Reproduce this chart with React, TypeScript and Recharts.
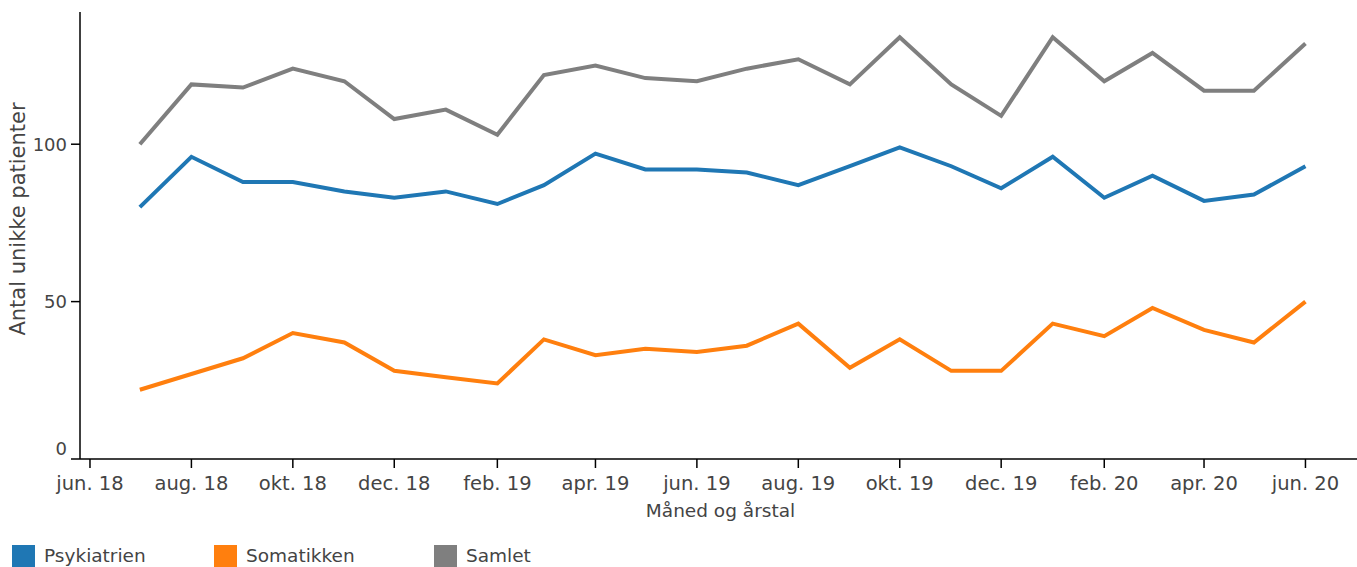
import { Line, LineChart, XAxis, YAxis } from "recharts";

// månedlige tal, jul. 18 - jun. 20
const months = [
  "2018-07-01", "2018-08-01", "2018-09-01", "2018-10-01", "2018-11-01", "2018-12-01",
  "2019-01-01", "2019-02-01", "2019-03-01", "2019-04-01", "2019-05-01", "2019-06-01",
  "2019-07-01", "2019-08-01", "2019-09-01", "2019-10-01", "2019-11-01", "2019-12-01",
  "2020-01-01", "2020-02-01", "2020-03-01", "2020-04-01", "2020-05-01", "2020-06-01",
];
const psykiatrien = [80, 96, 88, 88, 85, 83, 85, 81, 87, 97, 92, 92, 91, 87, 93, 99, 93, 86, 96, 83, 90, 82, 84, 93];
const somatikken = [22, 27, 32, 40, 37, 28, 26, 24, 38, 33, 35, 34, 36, 43, 29, 38, 28, 28, 43, 39, 48, 41, 37, 50];
const samlet = [100, 119, 118, 124, 120, 108, 111, 103, 122, 125, 121, 120, 124, 127, 119, 134, 119, 109, 134, 120, 129, 117, 117, 132];

const tickDates = [
  "2018-06-01", "2018-08-01", "2018-10-01", "2018-12-01", "2019-02-01", "2019-04-01", "2019-06-01",
  "2019-08-01", "2019-10-01", "2019-12-01", "2020-02-01", "2020-04-01", "2020-06-01",
];
const tickLabels = [
  "jun. 18", "aug. 18", "okt. 18", "dec. 18", "feb. 19", "apr. 19", "jun. 19",
  "aug. 19", "okt. 19", "dec. 19", "feb. 20", "apr. 20", "jun. 20",
];
const yTicks = [0, 50, 100];

const series = [
  { key: "psyk", name: "Psykiatrien", color: "#1f77b4", values: psykiatrien },
  { key: "soma", name: "Somatikken", color: "#ff7f0e", values: somatikken },
  { key: "samlet", name: "Samlet", color: "#7f7f7f", values: samlet },
];

const FONT = "'DejaVu Sans', Verdana, sans-serif";
const TEXT = "#444";
const xTicks = tickDates.map((d) => Date.parse(d));
const xDomain = [Date.parse("2018-05-26"), Date.parse("2020-07-02")];
const legendLeft = [12, 214, 434];

const data = months.map((m, i) => {
  const row: Record<string, number> = { t: Date.parse(m) };
  series.forEach((s) => (row[s.key] = s.values[i]));
  return row;
});

function YTick(props: any) {
  const { x, y, payload } = props;
  // plotly løfter 0-etiketten lidt op over x-aksen
  const lift = payload.value === 0 ? -10 : 0;
  return (
    <text x={x} y={y + lift} dy="0.355em" textAnchor="end" fill={TEXT} fontSize={18}>
      {payload.value}
    </text>
  );
}

export default function App() {
  return (
    <div style={{ position: "relative", width: 1357, height: 567, overflow: "hidden", fontFamily: FONT, background: "#fff" }}>
      <style>{"body{margin:0}"}</style>
      <LineChart width={1357} height={567} data={data} margin={{ top: 12, right: 0, bottom: 0, left: 0 }}>
        <XAxis
          dataKey="t"
          type="number"
          scale="time"
          domain={xDomain}
          allowDataOverflow
          ticks={xTicks}
          interval={0}
          tickFormatter={(v: number) => tickLabels[xTicks.indexOf(v)] ?? ""}
          height={108}
          tickSize={9}
          tickMargin={8}
          stroke="#000"
          strokeWidth={1.5}
          tick={{ fill: TEXT, fontSize: 19.5 }}
          label={(p: any) => {
            const vb = p.viewBox;
            return (
              <text x={vb.x + vb.width / 2 + 2} y={vb.y + 58} textAnchor="middle" fill={TEXT} fontSize={18.5}>
                Måned og årstal
              </text>
            );
          }}
        />
        <YAxis
          type="number"
          domain={[0, 142]}
          ticks={yTicks}
          width={80}
          tickSize={9}
          tickMargin={4}
          stroke="#000"
          strokeWidth={1.5}
          tick={<YTick />}
          label={() => (
            <text transform="translate(24.5,219) rotate(-90)" textAnchor="middle" fill={TEXT} fontSize={21}>
              Antal unikke patienter
            </text>
          )}
        />
        {series.map((s) => (
          <Line
            key={s.key}
            dataKey={s.key}
            name={s.name}
            stroke={s.color}
            strokeWidth={4}
            dot={false}
            activeDot={false}
            isAnimationActive={false}
          />
        ))}
      </LineChart>
      {series.map((s, i) => (
        <div key={s.key} style={{ position: "absolute", left: legendLeft[i], top: 545, display: "flex", alignItems: "flex-start" }}>
          <span style={{ width: 23, height: 23, background: s.color, display: "inline-block" }} />
          <span style={{ marginLeft: 9, marginTop: 1, fontSize: 18.5, color: TEXT, lineHeight: "20px" }}>{s.name}</span>
        </div>
      ))}
    </div>
  );
}
